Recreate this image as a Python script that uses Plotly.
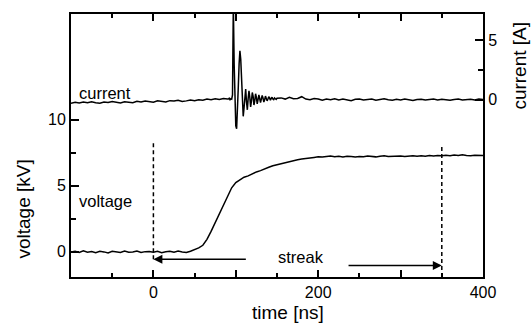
import plotly.graph_objects as go

# ---------------- data ----------------
# current trace [A]
cur_t1 = list(range(-100, 91, 5))
cur_v1 = [-0.30, -0.22, -0.28, -0.20, -0.26, -0.18, -0.25, -0.30, -0.20, -0.24,
          -0.15, -0.22, -0.28, -0.18, -0.20, -0.25, -0.14, -0.20, -0.12, -0.18,
          -0.22, -0.10, -0.15, -0.20, -0.08, -0.12, -0.05, -0.15, -0.10, -0.02,
          -0.08, 0.00, -0.05, 0.05, 0.00, 0.08, 0.02, 0.10, 0.05]
cur_t2 = list(range(91, 151, 1))
cur_v2 = [0.05, 0.12, 0.00, 0.08, 0.05, 0.40, 8.00, 3.00, -1.00, -2.20,
          -2.45, -1.20, 1.00, 3.00, 4.10, 3.40, 1.20, -0.90, -1.40, -0.70,
          0.50, 0.90, -0.20, -0.85, 0.10, 0.75, 0.20, -0.60, -0.10, 0.60,
          0.30, -0.45, -0.10, 0.50, 0.20, -0.35, 0.00, 0.40, 0.10, -0.25,
          0.05, 0.35, 0.15, -0.20, 0.00, 0.30, 0.10, -0.10, 0.05, 0.25,
          0.15, -0.05, 0.10, 0.20, 0.05, 0.00, 0.15, 0.10, 0.02, 0.12]
cur_t3 = list(range(155, 401, 5))
cur_v3 = [0.15, 0.05, 0.20, 0.08, 0.10, 0.25, 0.05, 0.00, 0.10, 0.05,
          -0.05, 0.05, 0.00, 0.08, -0.02, 0.05, 0.00, -0.08, 0.03, 0.06,
          -0.03, 0.00, 0.05, -0.05, 0.02, 0.08, 0.00, -0.04, 0.03, -0.02,
          0.05, 0.00, -0.06, 0.02, 0.04, -0.03, 0.00, 0.05, -0.02, 0.03,
          0.00, -0.05, 0.02, 0.05, -0.03, 0.00, 0.04, -0.02, 0.05, 0.02]
cur_t = cur_t1 + cur_t2 + cur_t3
cur_v = cur_v1 + cur_v2 + cur_v3

# voltage trace [kV]
volt_t = list(range(-100, 401, 5))
volt_v = [0.00, 0.05, -0.05, 0.08, -0.02, 0.03, -0.06, 0.04, 0.00, -0.08,
          0.05, 0.02, -0.04, 0.06, -0.03, 0.00, 0.07, -0.05, 0.02, 0.03,
          -0.02, 0.05, -0.06, 0.01, 0.04, -0.03, 0.06, 0.00, -0.04, 0.05,
          0.15, 0.30, 0.50, 0.95, 1.55, 2.20, 2.90, 3.55, 4.25, 4.85,
          5.25, 5.45, 5.65, 5.75, 5.92, 6.05, 6.15, 6.30, 6.40, 6.52,
          6.60, 6.68, 6.78, 6.85, 6.90, 6.97, 7.02, 7.08, 7.12, 7.15, 7.20,
          7.18, 7.22, 7.25, 7.20, 7.23, 7.19, 7.24, 7.21, 7.18, 7.22,
          7.20, 7.25, 7.22, 7.19, 7.24, 7.28, 7.21, 7.23, 7.20, 7.26,
          7.22, 7.25, 7.28, 7.24, 7.27, 7.23, 7.29, 7.26, 7.30, 7.27,
          7.31, 7.28, 7.33, 7.29, 7.35, 7.30, 7.28, 7.32, 7.29, 7.30]

x_tickvals = [-100, 0, 100, 200, 300, 400]
x_ticktext = ["", "0", "", "200", "", "400"]
v_tickvals = [0, 5, 10]
v_minor = [2.5, 7.5]
c_tickvals = [0, 5]
c_minor = [2.5]

streak_start = 0
streak_end = 350
streak_arrow_left = 114
streak_arrow_right = 235

FONT = "Liberation Sans, Arial, Helvetica, sans-serif"
DASH = "4px,3px"

fig = go.Figure()
fig.add_trace(go.Scatter(x=volt_t, y=volt_v, mode="lines",
                         line=dict(color="black", width=1.5), yaxis="y"))
fig.add_trace(go.Scatter(x=cur_t, y=cur_v, mode="lines",
                         line=dict(color="black", width=1.5), yaxis="y2"))

fig.update_layout(
    width=531, height=325,
    margin=dict(l=71, r=48, t=12, b=48),
    paper_bgcolor="white", plot_bgcolor="white",
    showlegend=False,
    font=dict(family=FONT, size=16, color="black"),
    xaxis=dict(range=[-100, 400], tickvals=x_tickvals, ticktext=x_ticktext,
               ticks="inside", ticklen=7, tickwidth=1.5, tickcolor="black",
               minor=dict(dtick=50, tick0=0, ticks="inside", ticklen=4,
                          tickwidth=1.5, tickcolor="black"),
               showline=True, linewidth=2, linecolor="black", mirror="ticks",
               showgrid=False, zeroline=False, tickfont=dict(size=16)),
    yaxis=dict(range=[-1.9, 18], tickvals=v_tickvals,
               ticks="inside", ticklen=8, tickwidth=1.5, tickcolor="black",
               minor=dict(tickvals=v_minor, ticks="inside", ticklen=5,
                          tickwidth=1.5, tickcolor="black"),
               showline=True, linewidth=2, linecolor="black",
               showgrid=False, zeroline=False, tickfont=dict(size=16)),
    yaxis2=dict(range=[-14.9, 7.2], tickvals=c_tickvals, overlaying="y", side="right",
                ticks="inside", ticklen=8, tickwidth=1.5, tickcolor="black",
                minor=dict(tickvals=c_minor, ticks="inside", ticklen=5,
                           tickwidth=1.5, tickcolor="black"),
                showline=True, linewidth=2, linecolor="black",
                showgrid=False, zeroline=False, tickfont=dict(size=16)),
)

# dashed markers of the streak window
fig.add_shape(type="line", xref="x", yref="y", x0=streak_start, x1=streak_start,
              y0=-0.55, y1=8.3, line=dict(color="black", width=1.5, dash=DASH))
fig.add_shape(type="line", xref="x", yref="y", x0=streak_end, x1=streak_end,
              y0=-1.9, y1=8.0, line=dict(color="black", width=1.5, dash=DASH))

# arrows
fig.add_annotation(x=streak_start, y=-0.55, ax=streak_arrow_left, ay=-0.55,
                   xref="x", yref="y", axref="x", ayref="y", text="",
                   showarrow=True, arrowhead=2, arrowsize=1.2, arrowwidth=1.5,
                   arrowcolor="black")
fig.add_annotation(x=streak_end, y=-1.03, ax=streak_arrow_right, ay=-1.03,
                   xref="x", yref="y", axref="x", ayref="y", text="",
                   showarrow=True, arrowhead=2, arrowsize=1.2, arrowwidth=1.5,
                   arrowcolor="black")

# text labels
fig.add_annotation(x=178.6, y=-0.35, xref="x", yref="y", text="streak",
                   showarrow=False, xanchor="center", yanchor="middle",
                   font=dict(size=16.5))
fig.add_annotation(x=-93, y=0.55, xref="x", yref="y2", text="current",
                   showarrow=False, xanchor="left", yanchor="middle",
                   font=dict(size=16.5))
fig.add_annotation(x=-93, y=3.85, xref="x", yref="y", text="voltage",
                   showarrow=False, xanchor="left", yanchor="middle",
                   font=dict(size=16.5))

# axis titles
fig.add_annotation(x=(24 - 71) / 412, y=(277 - 209) / 265, xref="paper", yref="paper",
                   text="voltage [kV]", textangle=-90, showarrow=False,
                   xanchor="center", yanchor="middle", borderpad=0,
                   font=dict(size=19))
fig.add_annotation(x=(520 - 71) / 412, y=(277 - 64) / 265, xref="paper", yref="paper",
                   text="current [A]", textangle=-90, showarrow=False,
                   xanchor="center", yanchor="middle", borderpad=0,
                   font=dict(size=19))
fig.add_annotation(x=(288 - 71) / 412, y=(277 - 313) / 265, xref="paper", yref="paper",
                   text="time [ns]", showarrow=False,
                   xanchor="center", yanchor="middle", borderpad=0,
                   font=dict(size=19))

fig.write_html("out.html")
